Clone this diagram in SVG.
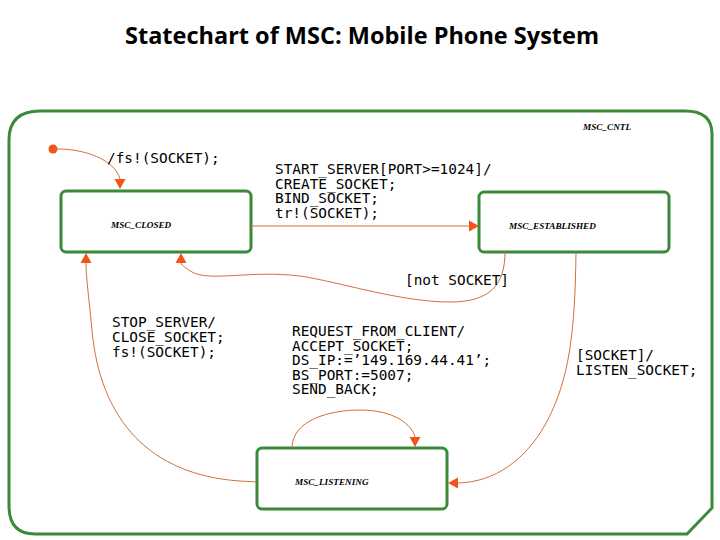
<svg xmlns="http://www.w3.org/2000/svg" width="720" height="540" viewBox="0 0 720 540">
<style>
.title{font-family:"Open Sans","Liberation Sans",Arial,sans-serif;font-weight:bold;font-size:24px;fill:#000}
.state{fill:#fff;stroke:#3a8a3a;stroke-width:3}
.frame{fill:none;stroke:#3a8a3a;stroke-width:3}
.sname{font-family:"Liberation Serif","Times New Roman",serif;font-weight:bold;font-style:italic;font-size:9.2px;fill:#000}
.lbl{font-family:"DejaVu Sans Mono","Liberation Mono",monospace;font-size:14.4px;fill:#000}
.edge{fill:none;stroke:#d2703a;stroke-width:1}
.ah{fill:#f0541a}
</style>
<defs>
<path id="ah" d="M0,0 L-10,-5.5 L-10,5.5 Z"/>
</defs>
<rect width="720" height="540" fill="#fff"/>
<text class="title" x="362" y="44" text-anchor="middle" textLength="474" lengthAdjust="spacingAndGlyphs">Statechart of MSC: Mobile Phone System</text>

<g id="MSC_CNTL">
<path class="frame" d="M40,111 L685,111 Q712,111 712,134 L712,508 L687,534 L35,534 Q9,534 9,506 L9,140 Q9,111 40,111 Z"/>
<text class="sname" x="583" y="130">MSC_CNTL</text>
</g>

<g id="initial">
<circle cx="53" cy="149" r="4.5" fill="#f0541a"/>
</g>

<g id="MSC_CLOSED">
<rect class="state" x="61" y="191" width="190" height="61" rx="5"/>
<text class="sname" x="111" y="228">MSC_CLOSED</text>
</g>

<g id="MSC_ESTABLISHED">
<rect class="state" x="479" y="192" width="190" height="60" rx="5"/>
<text class="sname" x="509" y="229">MSC_ESTABLISHED</text>
</g>

<g id="MSC_LISTENING">
<rect class="state" x="257" y="448" width="190" height="61" rx="5"/>
<text class="sname" x="295" y="485">MSC_LISTENING</text>
</g>

<g id="connectors">
<path class="edge" d="M53,149 C85,148 115,160 120,179"/>
<use href="#ah" class="ah" transform="translate(120,189) rotate(90)"/>
<text class="lbl" x="107" y="163">/fs!(SOCKET);</text>

<path class="edge" d="M251,226 L469,226"/>
<use href="#ah" class="ah" transform="translate(479,226)"/>
<text class="lbl" x="275" y="174">START_SERVER[PORT&gt;=1024]/</text>
<text class="lbl" x="275" y="188.5">CREATE_SOCKET;</text>
<text class="lbl" x="275" y="203">BIND_SOCKET;</text>
<text class="lbl" x="275" y="217.5">tr!(SOCKET);</text>

<path class="edge" d="M505,252 C505,285 490,302 450,302 C400,302 340,282 300,276 C250,270 210,282 192,272 C186,268 182,266 181,263"/>
<use href="#ah" class="ah" transform="translate(181,253) rotate(-90)"/>
<text class="lbl" x="405" y="285">[not SOCKET]</text>

<path class="edge" d="M257,482 L240,481 C150,475 100,420 92,330 C88,290 86,275 86,263"/>
<use href="#ah" class="ah" transform="translate(86,253) rotate(-90)"/>
<text class="lbl" x="112" y="327">STOP_SERVER/</text>
<text class="lbl" x="112" y="342">CLOSE_SOCKET;</text>
<text class="lbl" x="112" y="357">fs!(SOCKET);</text>

<path class="edge" d="M576,252 C575,330 570,380 545,425 C525,460 495,482 458,483"/>
<use href="#ah" class="ah" transform="translate(448,483) rotate(180)"/>
<text class="lbl" x="576" y="360">[SOCKET]/</text>
<text class="lbl" x="576" y="375">LISTEN_SOCKET;</text>

<path class="edge" d="M292,448 C292,420 330,410 360,410 C395,410 412,425 415,437"/>
<use href="#ah" class="ah" transform="translate(415,447) rotate(90)"/>
<text class="lbl" x="292" y="336">REQUEST_FROM_CLIENT/</text>
<text class="lbl" x="292" y="350.5">ACCEPT_SOCKET;</text>
<text class="lbl" x="292" y="365">DS_IP:=’149.169.44.41’;</text>
<text class="lbl" x="292" y="379.5">BS_PORT:=5007;</text>
<text class="lbl" x="292" y="394">SEND_BACK;</text>
</g>
</svg>
